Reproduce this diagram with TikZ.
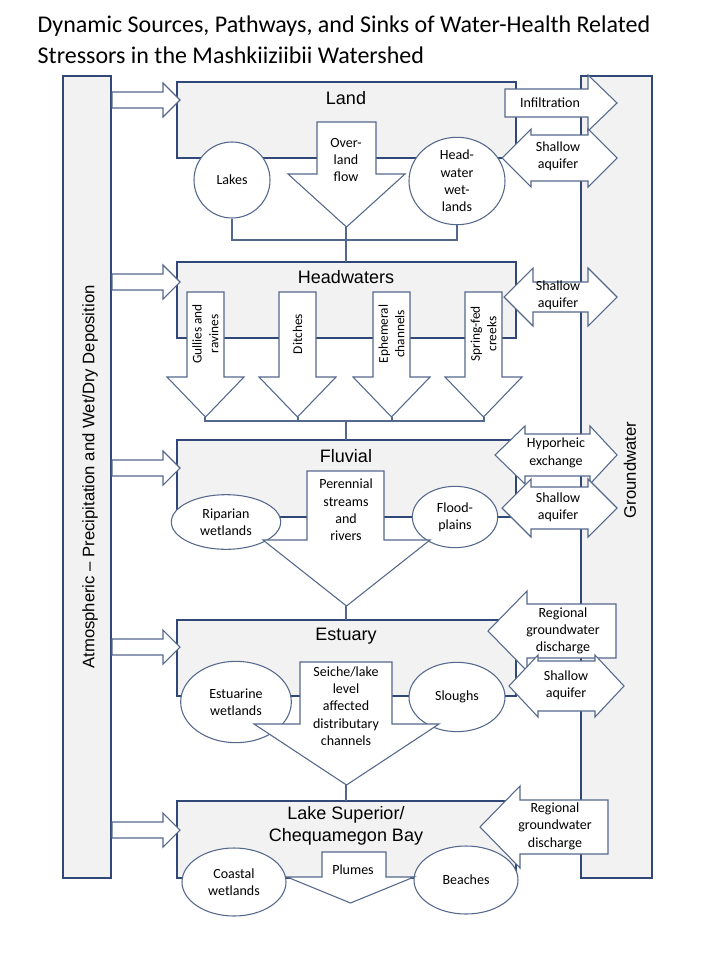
\documentclass[tikz,border=0pt]{standalone}
\usepackage{fontspec}
\setmainfont{Carlito}
\newfontfamily\arialf{Liberation Sans}
\usetikzlibrary{positioning,shapes.geometric}
\definecolor{boxblue}{RGB}{47,72,120}
\definecolor{arrblue}{RGB}{84,104,140}
\definecolor{panel}{RGB}{242,242,242}

% block arrows in pixel coordinates
\newcommand{\rarrow}[6]{\draw[blockarr] (#2,#1-#5) -- (#3,#1-#5) -- (#3,#1-#6) -- (#4,#1) -- (#3,#1+#6) -- (#3,#1+#5) -- (#2,#1+#5) -- cycle;}
\newcommand{\larrow}[6]{\draw[blockarr] (#4,#1-#5) -- (#3,#1-#5) -- (#3,#1-#6) -- (#2,#1) -- (#3,#1+#6) -- (#3,#1+#5) -- (#4,#1+#5) -- cycle;}
\newcommand{\dblarrow}[7]{\draw[blockarr] (#2,#1) -- (#3,#1-#7) -- (#3,#1-#6) -- (#4,#1-#6) -- (#4,#1-#7) -- (#5,#1) -- (#4,#1+#7) -- (#4,#1+#6) -- (#3,#1+#6) -- (#3,#1+#7) -- cycle;}
\newcommand{\darrow}[7]{\draw[blockarr] (#1,#3) -- (#2,#3) -- (#2,#4) -- (#6,#4) -- ({(#5+#6)/2},#7) -- (#5,#4) -- (#1,#4) -- cycle;}

\begin{document}
\begin{tikzpicture}
  [x=0.75pt,y=-0.75pt,
  blockarr/.style={draw=arrblue,fill=white,line width=0.8pt,line join=miter},
  zone/.style={draw=boxblue,fill=panel,line width=2pt},
  blob/.style={ellipse,draw=arrblue,fill=white,line width=0.8pt,inner sep=0pt,align=center,font=\fontsize{10.5}{13}\selectfont},
  lbl/.style={align=center,font=\fontsize{10.5}{13}\selectfont,inner sep=1pt},
  zone title/.style={font=\arialf\fontsize{13.5}{15}\selectfont,align=center},
  link/.style={draw=arrblue,line width=0.8pt}]
  \useasboundingbox (0,0) rectangle (720,960);

  % title
  \node[anchor=west,align=left,font=\fontsize{18}{23}\selectfont] (title) at (33,40)
    {Dynamic Sources, Pathways, and Sinks of Water-Health Related\\Stressors in the Mashkiiziibii Watershed};

  % side columns
  \draw[zone] (63,76) rectangle (111,878);
  \draw[zone] (581,76) rectangle (652,878);
  \node[rotate=90,font=\arialf\fontsize{12.5}{14}\selectfont] (atmo) at (90,477)
    {Atmospheric – Precipitation and Wet/Dry Deposition};
  \node[rotate=90,font=\arialf\fontsize{12.5}{14}\selectfont] (gw) at (630,470) {Groundwater};

  % zones
  \draw[zone] (177,82) rectangle (516,158);
  \draw[zone] (177,262) rectangle (516,338);
  \draw[zone] (177,440) rectangle (516,517);
  \draw[zone] (177,620) rectangle (516,696);
  \draw[zone] (177,801) rectangle (516,878);
  \node[zone title] (land) at (346,98) {Land};
  \node[zone title] (head) at (346,277) {Headwaters};
  \node[zone title] (fluv) at (346,456) {Fluvial};
  \node[zone title] (estu) at (346,636) {Estuary};
  \node[zone title,font=\arialf\fontsize{13.5}{17}\selectfont] (lake) at (346,826) {Lake Superior/\\Chequamegon Bay};

  % atmospheric inputs
  \foreach \cy in {100,282,468,647,830} {\rarrow{\cy}{112}{163}{180}{8}{17}}

  % Land
  \rarrow{103}{505}{588}{617}{14}{28}
  \node[lbl] (infil) at (550,103) {Infiltration};
  \dblarrow{158}{502}{531}{588}{617}{23}{29}
  \node[lbl] (sa1) at (558,156) {Shallow\\aquifer};
  \node[blob,minimum width=57pt,minimum height=57pt] (lakes) at (232,180) {Lakes};
  \node[blob,minimum width=72pt,minimum height=62pt] (hww) at (457,181) {Head-\\water\\wet-\\lands};
  \darrow{317}{376}{122}{174}{288}{405}{227}
  \coordinate (ovtip) at (346,227);
  \node[lbl] (over) at (346,160) {Over-\\land\\flow};
  \coordinate (b1) at (346,240);
  \draw[link] (lakes.south) |- (b1) -| (hww.south);
  \draw[link] (ovtip) -- (346,262);

  % Headwaters
  \dblarrow{297}{504}{533}{588}{617}{15}{29}
  \node[lbl] (sa2) at (558,295) {Shallow\\aquifer};
  \foreach \sx/\name/\txt in {187/gul/{Gullies and\\ravines},279/dit/Ditches,373/eph/{Ephemeral\\channels},465/spr/{Spring-fed\\creeks}} {
    \darrow{\sx}{\sx+37}{292}{377}{\sx-20}{\sx+57}{417}
    \node[lbl,rotate=90,font=\fontsize{10}{12.5}\selectfont] (\name) at (\sx+18.5,334) {\txt};
  }
  \coordinate (b2) at (346,421);
  \draw[link] (205,417) |- (b2) -| (484,417);
  \draw[link] (298,417) -- (298,421) (392,417) -- (392,421);
  \draw[link] (b2) -- (346,440);

  % Fluvial
  \dblarrow{455}{495}{525}{590}{617}{21}{29}
  \node[lbl] (hypo) at (556,453) {Hyporheic\\exchange};
  \dblarrow{508}{502}{531}{588}{617}{21}{29}
  \node[lbl] (sa3) at (558,507) {Shallow\\aquifer};
  \node[blob,minimum width=82pt,minimum height=41pt] (rip) at (226,522) {Riparian\\wetlands};
  \node[blob,minimum width=64pt,minimum height=46pt] (flood) at (455,517) {Flood-\\plains};
  \darrow{307}{384}{471}{540}{263}{430}{606}
  \coordinate (pertip) at (346,606);
  \node[lbl] (peren) at (346,510) {Perennial\\streams\\and\\rivers};
  \draw[link] (pertip) -- (346,620);

  % Estuary
  \larrow{631}{488}{527}{616}{27}{40}
  \node[lbl] (rgd1) at (563,631) {Regional\\groundwater\\discharge};
  \dblarrow{686}{509}{538}{595}{624}{25}{31}
  \node[lbl] (sa4) at (566,685) {Shallow\\aquifer};
  \node[blob,minimum width=83pt,minimum height=61pt] (estw) at (236,702) {Estuarine\\wetlands};
  \node[blob,minimum width=72pt,minimum height=52pt] (slough) at (457,697) {Sloughs};
  \darrow{300}{392}{662}{724}{254}{439}{785}
  \coordinate (seitip) at (346,785);
  \node[lbl] (seiche) at (346,706) {Seiche/lake\\level\\affected\\distributary\\channels};
  \draw[link] (seitip) -- (346,801);

  % Lake Superior
  \larrow{827}{480}{520}{608}{27}{41}
  \node[lbl] (rgd2) at (555,826) {Regional\\groundwater\\discharge};
  \node[blob,minimum width=78pt,minimum height=51pt] (coast) at (234,882) {Coastal\\wetlands};
  \node[blob,minimum width=78pt,minimum height=51pt] (beach) at (466,880) {Beaches};
  \darrow{322}{386}{852}{877}{287}{414}{903}
  \node[lbl] (plume) at (353,870) {Plumes};
\end{tikzpicture}
\end{document}
